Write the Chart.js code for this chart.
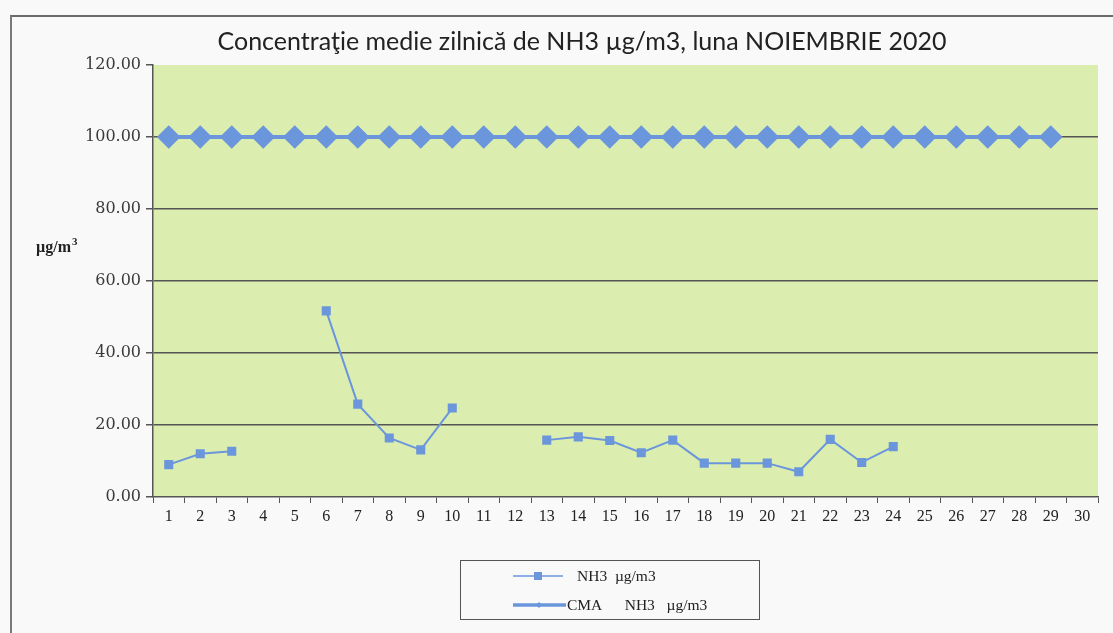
<!DOCTYPE html>
<html>
<head>
<meta charset="utf-8">
<script src="https://cdn.jsdelivr.net/npm/chart.js@4"></script>
<style>
  body { margin: 0; background: #f8f9f8; }
  #wrap { position: relative; width: 1113px; height: 633px; overflow: hidden; }
  #frame { position: absolute; left: 10px; top: 15px; width: 1110px; height: 630px;
           border-top: 2px solid #6a6a6a; border-left: 2px solid #7a7a7a; }
  canvas { position: absolute; left: 0; top: 0; }
  #legend { position: absolute; left: 460px; top: 560px; width: 298px; height: 58px;
            border: 1px solid #555; background: #f8f9f8;
            font-family: "Liberation Serif", "DejaVu Serif", serif; font-size: 15.5px; color: #222; }
  .item { position: absolute; left: 52px; height: 20px; display: flex; align-items: center; }
  .item canvas { position: static; }
</style>
</head>
<body>
<div id="wrap">
  <div id="frame"></div>
  <canvas id="myChart" width="1113" height="633"></canvas>
  <div id="legend"></div>
</div>
<script>
// Days of November 2020
const days = ['1','2','3','4','5','6','7','8','9','10','11','12','13','14','15',
              '16','17','18','19','20','21','22','23','24','25','26','27','28','29','30'];

// Daily mean NH3 (µg/m3), gaps where no data
const nh3Values = [9.0, 12.0, 12.7, null, null, 51.7, 25.8, 16.4, 13.1, 24.7,
                   null, null, 15.8, 16.7, 15.7, 12.3, 15.8, 9.4, 9.4, 9.4,
                   7.0, 16.0, 9.6, 14.0, null, null, null, null, null, null];

// Limit value (CMA)
const cmaValues = [100, 100, 100, 100, 100, 100, 100, 100, 100, 100,
                   100, 100, 100, 100, 100, 100, 100, 100, 100, 100,
                   100, 100, 100, 100, 100, 100, 100, 100, 100, null];

const yTicks = [0, 20, 40, 60, 80, 100, 120];

const seriesNames = ['NH3  µg/m3', 'CMA      NH3   µg/m3'];
const chartTitle = 'Concentraţie medie zilnică de NH3 µg/m3, luna NOIEMBRIE 2020';

const blue = '#6b96dc';

// Plot area background
const plotBg = {
    id: 'plotBg',
    beforeDraw(chart) {
        const a = chart.chartArea, c = chart.ctx;
        c.save();
        c.fillStyle = '#dbeeaf';
        c.fillRect(a.left, a.top, a.right - a.left, a.bottom - a.top);
        c.restore();
    }
};

// Title and unit label
const extraText = {
    id: 'extraText',
    afterDraw(chart) {
        const c = chart.ctx;
        c.save();
        c.fillStyle = '#222';
        c.font = '25px Lato, "Open Sans", sans-serif';
        c.textAlign = 'center';
        c.textBaseline = 'middle';
        c.fillText(chartTitle, 582, 42);

        c.textAlign = 'left';
        c.textBaseline = 'alphabetic';
        c.font = 'bold 16px "Liberation Serif", serif';
        c.fillText('µg/m', 36, 252);
        const w = c.measureText('µg/m').width;
        c.font = 'bold 11px "Liberation Serif", serif';
        c.fillText('3', 36 + w + 1, 245);
        c.restore();
    }
};

const ctx = document.getElementById('myChart').getContext('2d');
const myChart = new Chart(ctx, {
    type: 'line',
    data: {
        labels: days,
        datasets: [{
            label: seriesNames[0],
            data: nh3Values,
            borderColor: blue,
            backgroundColor: blue,
            borderWidth: 2,
            pointStyle: 'rect',
            pointRadius: 5,
            pointHoverRadius: 5,
            spanGaps: false,
        }, {
            label: seriesNames[1],
            data: cmaValues,
            borderColor: blue,
            backgroundColor: blue,
            borderWidth: 4,
            pointStyle: 'rectRot',
            pointRadius: 9,
            pointHoverRadius: 9,
        }]
    },
    options: {
        responsive: false,
        animation: false,
        layout: { padding: { left: 0, right: 15, top: 65, bottom: 100 } },
        plugins: {
            legend: { display: false },
            tooltip: { enabled: false },
            title: { display: false },
        },
        scales: {
            x: {
                offset: true,
                grid: {
                    offset: true,
                    drawOnChartArea: false,
                    color: '#555',
                    tickLength: 6,
                },
                border: { color: '#555', width: 1.5 },
                ticks: {
                    color: '#222',
                    autoSkip: false,
                    maxRotation: 0,
                    padding: 4,
                    font: { family: '"Liberation Serif", serif', size: 16 },
                },
                afterFit(s) { s.height = 36; },
            },
            y: {
                min: 0,
                max: 120,
                afterBuildTicks(s) { s.ticks = yTicks.map(v => ({ value: v })); },
                grid: {
                    color: c => (c.tick && (c.tick.value === 0 || c.tick.value === 120)) ? 'rgba(0,0,0,0)' : '#555',
                    tickColor: '#555',
                    lineWidth: 1.5,
                    tickLength: 7,
                },
                border: { color: '#555', width: 1.5 },
                ticks: {
                    color: '#3a3a3a',
                    padding: 5,
                    font: { family: '"DejaVu Serif", serif', size: 16 },
                    callback: v => Number(v).toFixed(2),
                },
                afterFit(s) { s.width = 153; },
            },
        },
    },
    plugins: [plotBg, extraText]
});

// Legend box built from the datasets
const legend = document.getElementById('legend');
myChart.data.datasets.forEach((ds, i) => {
    const row = document.createElement('div');
    row.className = 'item';
    row.style.top = (i === 0 ? 5 : 34) + 'px';
    const sw = document.createElement('canvas');
    sw.width = i === 0 ? 50 : 53; sw.height = 14;
    sw.style.marginRight = i === 0 ? '14px' : '1px';
    const g = sw.getContext('2d');
    g.strokeStyle = ds.borderColor;
    g.fillStyle = ds.backgroundColor;
    g.lineWidth = ds.borderWidth === 4 ? 3.5 : 1.5;
    g.beginPath(); g.moveTo(0, 7); g.lineTo(sw.width, 7); g.stroke();
    if (i === 0) {
        g.fillRect(21, 3, 8, 8);
    } else {
        g.beginPath(); g.moveTo(26, 4); g.lineTo(29, 7); g.lineTo(26, 10); g.lineTo(23, 7); g.closePath(); g.fill();
    }
    row.appendChild(sw);
    const t = document.createElement('span');
    t.textContent = ds.label;
    t.style.whiteSpace = 'pre';
    row.appendChild(t);
    legend.appendChild(row);
});
</script>
</body>
</html>
